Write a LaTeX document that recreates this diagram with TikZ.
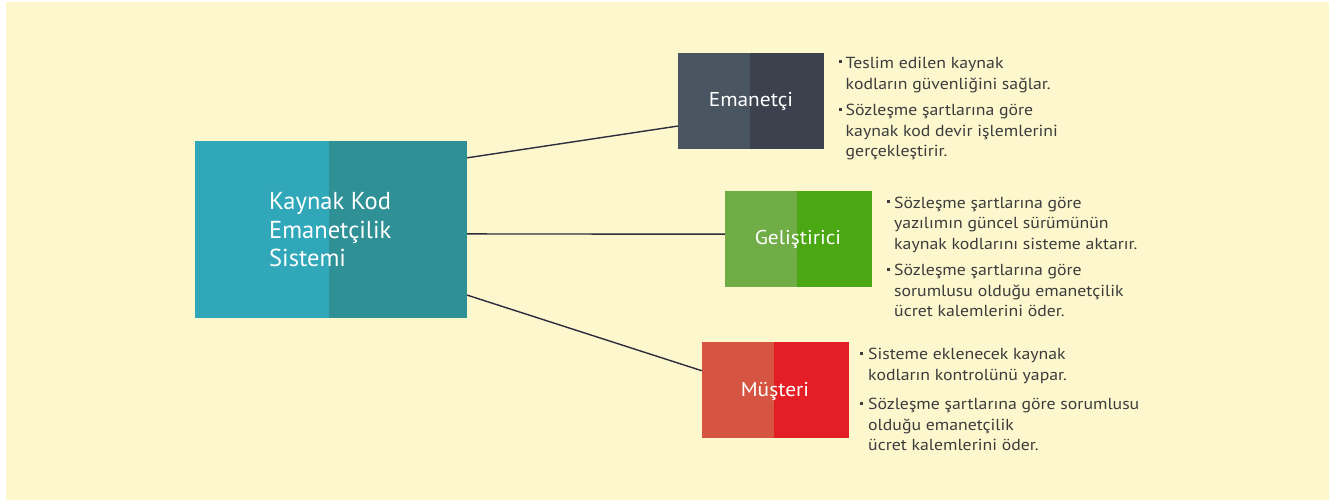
\documentclass[tikz,border=0pt]{standalone}
\usepackage{fontspec}
\setmainfont{PT Sans}
\newfontfamily\itemfont[FakeStretch=1.11]{PT Sans}
\newfontfamily\labelfont[FakeStretch=1.07]{PT Sans}
\usetikzlibrary{calc}
\definecolor{bgyellow}{RGB}{253,247,206}
\definecolor{tealL}{RGB}{48,168,186}
\definecolor{tealR}{RGB}{47,144,150}
\definecolor{emaL}{RGB}{74,85,98}
\definecolor{emaR}{RGB}{59,65,77}
\definecolor{gelL}{RGB}{112,173,71}
\definecolor{gelR}{RGB}{75,168,18}
\definecolor{musL}{RGB}{214,85,66}
\definecolor{musR}{RGB}{227,30,36}
\definecolor{linecol}{RGB}{43,45,60}
\definecolor{txtcol}{RGB}{60,60,60}
\newcommand{\mylines}[1]{\begin{tabular}[t]{@{}l@{}}#1\end{tabular}}
\begin{document}
\begin{tikzpicture}[x=1pt,y=-1pt,
  boxnode/.style={draw=none,inner sep=0pt,minimum width=147pt,minimum height=96pt},
  labeltext/.style={text=white,font=\labelfont\fontsize{20}{24}\selectfont,inner sep=0pt,anchor=base},
  maintext/.style={text=white,font=\fontsize{24.5}{28.7}\selectfont,inner sep=0pt,anchor=base west},
  itemtext/.style={text=txtcol,font=\itemfont\fontsize{16}{20.5}\selectfont,inner sep=0pt,anchor=base west},
  bulletsq/.style={fill=txtcol,inner sep=0pt,minimum size=3pt,draw=none},
  conn/.style={draw=linecol,line width=1.4pt}]
\useasboundingbox (0,0) rectangle (1334,502);
\fill[white] (0,0) rectangle (1334,502);
\fill[bgyellow] (6,2) rectangle (1329,500);

% main box
\node[boxnode,fill=tealR,minimum width=272pt,minimum height=177pt] (main) at (331,229.5) {};
\fill[tealL] (main.north west) rectangle (329,318);
\node[maintext] (mainlabel) at (269,210) {\mylines{Kaynak Kod\\[-0.3pt]Emanetçilik\\[-0.3pt]Sistemi}};

% Emanetci
\node[boxnode,fill=emaR,minimum width=146pt] (ema) at (751,101) {};
\fill[emaL] (ema.north west) rectangle (750,149);
\node[labeltext] (emalabel) at (751,106.7) {Emanetçi};

% Gelistirici
\node[boxnode,fill=gelR] (gel) at (798.5,239) {};
\fill[gelL] (gel.north west) rectangle (797,287);
\node[labeltext] (gellabel) at (798,245) {Geliştirici};

% Musteri
\node[boxnode,fill=musR] (mus) at (775.5,390.5) {};
\fill[musL] (mus.north west) rectangle (774,438.5);
\node[labeltext] (muslabel) at (775,396.7) {Müşteri};

% connectors
\draw[conn] ($(main.north east)!0.096!(main.south east)$) -- ($(ema.north west)!0.76!(ema.south west)$);
\draw[conn] ($(main.north east)!0.525!(main.south east)$) -- ($(gel.north west)!0.45!(gel.south west)$);
\draw[conn] ($(main.north east)!0.87!(main.south east)$) -- ($(mus.north west)!0.295!(mus.south west)$);

% Emanetci items
\node[bulletsq] (eb1) at (840.5,62) {};
\node[itemtext] (ei1) at (845.5,68.7) {\mylines{Teslim edilen kaynak\\kodların güvenliğini sağlar.}};
\node[bulletsq] (eb2) at (840.5,109.5) {};
\node[itemtext] (ei2) at (845.5,116) {\mylines{Sözleşme şartlarına göre\\kaynak kod devir işlemlerini\\gerçekleştirir.}};

% Gelistirici items
\node[bulletsq] (gb1) at (888.5,201.5) {};
\node[itemtext] (gi1) at (894,208.3) {\mylines{Sözleşme şartlarına göre\\yazılımın güncel sürümünün\\kaynak kodlarını sisteme aktarır.}};
\node[bulletsq] (gb2) at (888.5,269.5) {};
\node[itemtext] (gi2) at (894,276) {\mylines{Sözleşme şartlarına göre\\sorumlusu olduğu emanetçilik\\ücret kalemlerini öder.}};

% Musteri items
\node[bulletsq] (mb1) at (861.5,353.5) {};
\node[itemtext] (mi1) at (868,360) {\mylines{Sisteme eklenecek kaynak\\kodların kontrolünü yapar.}};
\node[bulletsq] (mb2) at (861.5,403.5) {};
\node[itemtext] (mi2) at (868,410) {\mylines{Sözleşme şartlarına göre sorumlusu\\olduğu emanetçilik\\ücret kalemlerini öder.}};
\end{tikzpicture}
\end{document}
